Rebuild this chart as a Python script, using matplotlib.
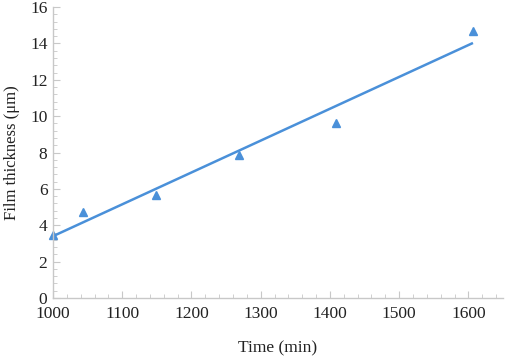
import matplotlib
matplotlib.use("Agg")
import matplotlib.pyplot as plt
from matplotlib.ticker import MultipleLocator

# measured points
time_min = [1000, 1043, 1149, 1268, 1409, 1606]
thickness_um = [3.46, 4.73, 5.66, 7.86, 9.6, 14.7]

# fitted line endpoints
fit_time = [1000, 1605]
fit_thickness = [3.4, 14.0]

blue = "#4a90d9"
grey = "#c8c8c8"

plt.rcParams['font.family'] = ['Liberation Serif', 'DejaVu Serif']

fig = plt.figure(figsize=(5.05, 3.56), dpi=100)
ax = fig.add_axes([0.105, 0.163, 0.891, 0.817])

ax.plot(fit_time, fit_thickness, color=blue, lw=1.8)
ax.plot(time_min, thickness_um, linestyle='none', marker='^', color=blue, markersize=6, clip_on=False)

ax.set_xlim(1000, 1650)
ax.set_ylim(0, 16)
ax.xaxis.set_major_locator(MultipleLocator(100))
ax.xaxis.set_minor_locator(MultipleLocator(20))
ax.yaxis.set_major_locator(MultipleLocator(2))
ax.yaxis.set_minor_locator(MultipleLocator(0.4))

for s in ['top', 'right']:
    ax.spines[s].set_visible(False)
for s in ['left', 'bottom']:
    ax.spines[s].set_color(grey)
    ax.spines[s].set_linewidth(1)

ax.tick_params(which='major', direction='in', length=5, color=grey, labelsize=12.5, labelcolor='#222222')
ax.tick_params(which='minor', direction='in', length=3, color=grey)
ax.tick_params(axis='x', which='major', pad=6)
ax.tick_params(axis='y', which='major', pad=4)

ax.set_xlabel('Time (min)', fontsize=12.5, labelpad=13, color='#222222')
ax.set_ylabel('Film thickness (μm)', fontsize=12, labelpad=7, color='#222222')

fig.savefig('out.png', dpi=100)
